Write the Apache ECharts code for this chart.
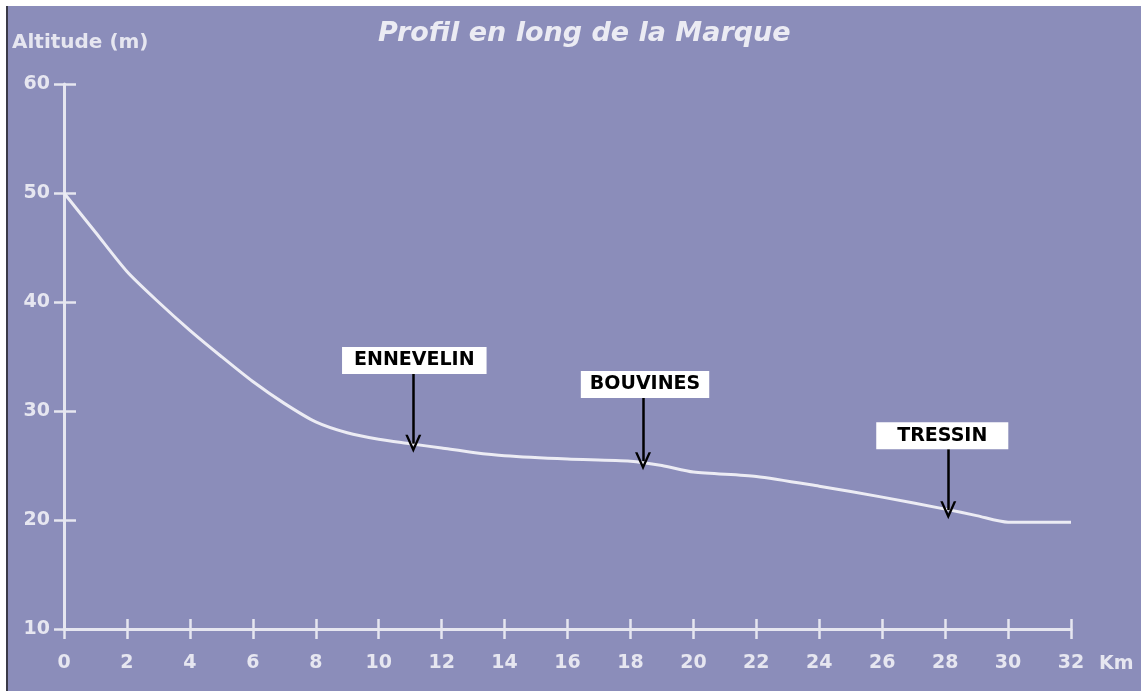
<!DOCTYPE html>
<html>
<head>
<meta charset="utf-8">
<script src="https://cdn.jsdelivr.net/npm/echarts@6/dist/echarts.min.js"></script>
<style>
  html, body { margin: 0; padding: 0; background: #ffffff; width: 1141px; height: 691px; overflow: hidden; }
  #wrap { position: absolute; left: 6px; top: 6px; border-left: 2px solid #3a3a48; }
  #chart { width: 1133px; height: 685px; }
</style>
</head>
<body>
<div id="wrap"><div id="chart"></div></div>
<script>
// Distance along the river (km) and altitude (m)
const distanceKm = [0, 1, 2, 3, 4, 5, 6, 7, 8, 9, 10, 11, 12, 13, 14, 16, 18, 19, 20, 22, 24, 26, 28, 29, 30, 32];
const altitudeM  = [50, 46.4, 42.8, 40.0, 37.4, 35.0, 32.7, 30.7, 29.0, 28.0, 27.4, 27.0, 26.6, 26.2, 25.9, 25.6, 25.4, 25.0, 24.4, 24.0, 23.1, 22.1, 21.0, 20.4, 19.8, 19.8];

// Places marked with arrows
const placeNames  = ['ENNEVELIN', 'BOUVINES', 'TRESSIN'];
const placeKm     = [11.1, 18.4, 28.1];
const placeTipAlt = [27.0, 25.4, 20.9];
const placeTopAlt = [33.4, 31.2, 26.5];

const xTicks = { min: 0, max: 32, interval: 2 };
const yTicks = { min: 10, max: 60, interval: 10 };

const titleText = 'Profil en long de la Marque';
const yAxisTitle = 'Altitude (m)';
const xAxisUnit = 'Km';

const bg = '#8b8dba';
const fg = '#e6e6f0';
const font = 'DejaVu Sans';

const chart = echarts.init(document.getElementById('chart'), null, { renderer: 'canvas' });

const lineData = distanceKm.map((k, i) => [k, altitudeM[i]]);
const boxPads = [[4, 12, 4, 12], [4, 9, 4, 9], [4, 21, 4, 21]];
const boxShift = [[1, 0], [2, 0], [-6, 0]];
const arrowLines = placeNames.map((n, i) => [
  { coord: [placeKm[i], placeTopAlt[i]], name: n, label: { padding: boxPads[i], offset: boxShift[i] } },
  { coord: [placeKm[i], placeTipAlt[i]] }
]);

const labelStyle = { color: fg, fontFamily: font, fontWeight: 'bold', fontSize: 19 };

chart.setOption({
  backgroundColor: bg,
  animation: false,
  title: [
    { text: titleText, left: 370, top: 14, padding: 0,
      textStyle: { color: '#ebebf3', fontFamily: font, fontWeight: 'bold', fontStyle: 'italic', fontSize: 27 } },
    { text: yAxisTitle, left: 4, top: 27, padding: 0,
      textStyle: { color: fg, fontFamily: font, fontWeight: 'bold', fontSize: 20 } }
  ],
  grid: { left: 56, right: 70, top: 78, bottom: 62, containLabel: false },
  xAxis: [
    { type: 'value', position: 'bottom', min: xTicks.min, max: xTicks.max, interval: xTicks.interval,
      axisLine: { show: true, onZero: false, lineStyle: { color: fg, width: 3 } },
      axisTick: { show: true, inside: false, length: 10, lineStyle: { color: fg, width: 2.5 } },
      axisLabel: Object.assign({ margin: 25 }, labelStyle),
      splitLine: { show: false },
      name: xAxisUnit, nameLocation: 'end', nameGap: 28,
      nameTextStyle: { color: fg, fontFamily: font, fontWeight: 'bold', fontSize: 19, align: 'left', verticalAlign: 'top', padding: [26, 0, 0, 0] } },
    { type: 'value', position: 'bottom', offset: 0, min: xTicks.min, max: xTicks.max, interval: xTicks.interval,
      axisLine: { show: false },
      axisTick: { show: true, inside: true, length: 10, lineStyle: { color: fg, width: 2.5 } },
      axisLabel: { show: false }, splitLine: { show: false } }
  ],
  yAxis: [
    { type: 'value', position: 'left', min: yTicks.min, max: yTicks.max, interval: yTicks.interval,
      axisLine: { show: true, onZero: false, lineStyle: { color: fg, width: 3 } },
      axisTick: { show: true, inside: false, length: 10, lineStyle: { color: fg, width: 2.5 } },
      axisLabel: Object.assign({ margin: 14, verticalAlign: 'middle', padding: [0, 0, 10, 0] }, labelStyle),
      splitLine: { show: false } },
    { type: 'value', position: 'left', offset: 0, min: yTicks.min, max: yTicks.max, interval: yTicks.interval,
      axisLine: { show: false },
      axisTick: { show: true, inside: true, length: 12, lineStyle: { color: fg, width: 2.5 } },
      axisLabel: { show: false }, splitLine: { show: false } }
  ],
  series: [{
    type: 'line',
    xAxisIndex: 0, yAxisIndex: 0,
    data: lineData,
    smooth: 0.25,
    showSymbol: false,
    symbol: 'none',
    lineStyle: { color: '#ececf4', width: 3 },
    markLine: {
      silent: true,
      symbol: ['none', 'path://M0,16 L8,0 L16,16 L13.5,16 L8,5 L2.5,16 Z'],
      symbolSize: [16, 18],
      lineStyle: { color: '#000000', width: 2.5, type: 'solid' },
      label: {
        show: true, position: 'start', distance: 0,
        formatter: p => p.name,
        color: '#000000', fontFamily: font, fontWeight: 'bold', fontSize: 19,
        backgroundColor: '#ffffff', padding: [4, 12, 4, 12]
      },
      data: arrowLines
    }
  }]
});
</script>
</body>
</html>
